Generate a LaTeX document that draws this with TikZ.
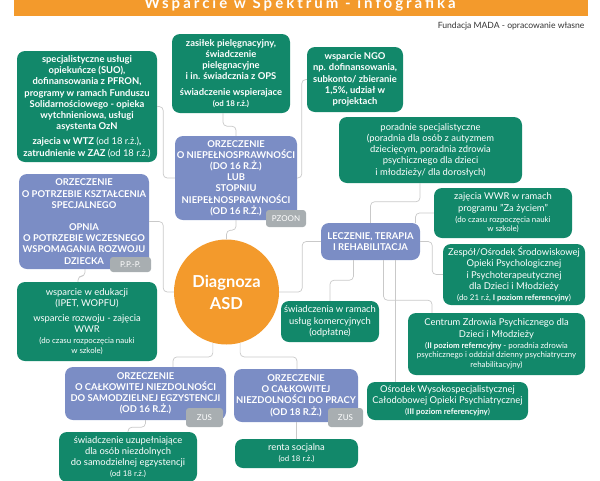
\documentclass[tikz,border=0pt]{standalone}
\usepackage{fontspec}
\setmainfont{Lato}
\usetikzlibrary{positioning,calc}

\definecolor{mindgreen}{HTML}{12886A}
\definecolor{mindblue}{HTML}{7B8DC5}
\definecolor{mindorange}{HTML}{F39A2C}
\definecolor{taggrey}{HTML}{A8AEB1}
\definecolor{linkgrey}{HTML}{C9C9C9}
\newcommand\smalltxt{\fontsize{7.9}{9.4}\selectfont}

\begin{document}
\begin{tikzpicture}[x=1pt, y=-1pt,
        font=\fontsize{9.4}{11.2}\selectfont,
        leaf/.style={fill=mindgreen, text=white, rounded corners=8pt, align=center,
                     inner sep=1pt},
        boldleaf/.style={leaf, font=\fontsize{9.4}{11.2}\selectfont\bfseries},
        branch/.style={fill=mindblue, text=white, rounded corners=8pt, align=center,
                       inner sep=1pt, font=\fontsize{9.4}{11.2}\selectfont\bfseries},
        tag/.style={fill=taggrey, text=white, rounded corners=3pt, inner sep=1pt,
                    font=\fontsize{8}{9}\selectfont},
        link/.style={draw=linkgrey, line width=0.7pt, rounded corners=4pt}
    ]
        \useasboundingbox (0,0) rectangle (600,480);

        \fill[mindorange] (14,0) rectangle (588,16);
        \node[anchor=base, text=white, font=\fontsize{15}{17}\selectfont\bfseries\addfontfeature{LetterSpace=20}] (title) at (300,8.5) {Wsparcie w Spektrum - infografika};
        \node[anchor=base east, text=black!80, font=\fontsize{8.6}{9}\selectfont] (source) at (588,28) {Fundacja MADA - opracowanie własne};

        \node[circle, fill=mindorange, text=white, minimum size=105pt, inner sep=0pt, align=center,
              font=\fontsize{16.5}{22}\selectfont\bfseries] (diagnoza) at (226.5,292) {Diagnoza\\ASD};

        \node[boldleaf, minimum width=140pt, minimum height=111pt] (suo) at (87,106.5) {specjalistyczne usługi\\opiekuńcze (SUO),\\dofinansowania z PFRON,\\programy w ramach Funduszu\\Solidarnościowego - opieka\\wytchnieniowa, usługi\\asystenta OzN\\[4pt]zajecia w WTZ {\mdseries (od 18 r.ż.)},\\zatrudnienie w ZAZ {\mdseries (od 18 r.ż.)}};
        \node[boldleaf, minimum width=118pt, minimum height=79pt] (zasilek) at (231,73.5) {zasiłek pielęgnacyjny,\\świadczenie\\pielęgnacyjne\\i in. świadcznia z OPS\\[4pt]świadczenie wspierajace\\{\smalltxt (od 18 r.ż.)}};
        \node[boldleaf, minimum width=96pt, minimum height=65pt] (ngo) at (355,79.5) {wsparcie NGO\\np. dofinansowania,\\subkonto/ zbieranie\\1,5\%, udział w\\projektach};
        \node[leaf, minimum width=183pt, minimum height=66pt] (poradnie) at (430.5,150) {poradnie specjalistyczne\\(poradnia dla osób z autyzmem\\dziecięcym, poradnia zdrowia\\psychicznego dla dzieci\\i młodzieży/ dla dorosłych)};
        \node[leaf, minimum width=138pt, minimum height=50pt] (wwr) at (503,213) {zajęcia WWR w ramach\\programu \symbol{34}Za życiem\symbol{34}\\{\smalltxt (do czasu rozpoczęcia nauki}\\[-1.5pt]{\smalltxt w szkole)}};
        \node[leaf, minimum width=142pt, minimum height=61pt] (zespol) at (514,274.5) {Zespół/Ośrodek Środowiskowej\\Opieki Psychologicznej\\i Psychoterapeutycznej\\dla Dzieci i Młodzieży\\{\smalltxt (do 21 r.ż, \textbf{I poziom referencyjny})}};
        \node[leaf, minimum width=98pt, minimum height=41pt] (komercyjne) at (330,321.5) {świadczenia w ramach\\usług komercyjnych\\(odpłatne)};
        \node[leaf, minimum width=177pt, minimum height=62pt] (centrum) at (496.5,344) {Centrum Zdrowia Psychicznego dla\\Dzieci i Młodzieży\\{\smalltxt (\textbf{II poziom referncyjny} - poradnia zdrowia}\\[-1.5pt]{\smalltxt psychicznego i oddział dzienny psychiatryczny}\\[-1.5pt]{\smalltxt rehabilitacyjny)}};
        \node[leaf, minimum width=161pt, minimum height=38pt] (osrodek) at (447.5,401) {Ośrodek Wysokospecjalistycznej\\Całodobowej Opieki Psychiatrycznej\\{\smalltxt (\textbf{III poziom referencyjny})}};
        \node[leaf, minimum width=140pt, minimum height=79pt] (edukacja) at (87,321.5) {wsparcie w edukacji\\(IPET, WOPFU)\\[3pt]wsparcie rozwoju - zajęcia\\WWR\\{\smalltxt (do czasu rozpoczęcia nauki}\\[-1.5pt]{\smalltxt w szkole)}};
        \node[leaf, minimum width=138pt, minimum height=50pt] (uzupelniajace) at (128,457) {świadczenie uzupełniające\\dla osób niezdolnych\\do samodzielnej egzystencji\\{\smalltxt (od 18 r.ż.)}};
        \node[leaf, minimum width=123pt, minimum height=29pt] (renta) at (296.5,453.5) {renta socjalna\\{\smalltxt (od 18 r.ż.)}};

        \node[branch, minimum width=122pt, minimum height=84pt] (niep) at (236,178) {ORZECZENIE\\O NIEPEŁNOSPRAWNOŚCI\\(DO 16 R.Ż.)\\LUB\\STOPNIU\\NIEPEŁNOSPRAWNOŚCI\\(OD 16 R.Ż.)};
        \node[branch, minimum width=130pt, minimum height=95pt] (ksztalcenie) at (84,221.5) {ORZECZENIE\\O POTRZEBIE KSZTAŁCENIA\\SPECJALNEGO\\[11pt]OPNIA\\O POTRZEBIE WCZESNEGO\\WSPOMAGANIA ROZWOJU\\DZIECKA};
        \node[branch, minimum width=99pt, minimum height=37pt] (leczenie) at (370.5,241.5) {LECZENIE, TERAPIA\\I REHABILITACJA};
        \node[branch, minimum width=161pt, minimum height=53pt] (egzystencja) at (145.5,393.5) {ORZECZENIE\\O CAŁKOWITEJ NIEZDOLNOŚCI\\DO SAMODZIELNEJ EGZYSTENCJI\\(OD 16 R.Ż.)};
        \node[branch, minimum width=124pt, minimum height=53pt] (praca) at (296,395.5) {ORZECZENIE\\O CAŁKOWITEJ\\NIEZDOLNOŚCI DO PRACY\\(OD 18 R.Ż.)};

        \node[tag, minimum width=40pt, minimum height=17pt] (pzoon) at (286,218.5) {PZOON};
        \node[tag, minimum width=41pt, minimum height=15pt] (ppp) at (130.5,264.5) {P.P.-P.};
        \node[tag, minimum width=37pt, minimum height=19pt] (zusone) at (204.5,417.5) {ZUS};
        \node[tag, minimum width=35pt, minimum height=19pt] (zustwo) at (345.5,417.5) {ZUS};

        \draw[link] (suo.east) -- ++(6,0) |- (niep.west);
        \draw[link] ([xshift=-8pt]zasilek.south) -- ++(0,13) -| (niep.north);
        \draw[link] (ngo.west) -- ++(-5,0) |- (niep.east);
        \draw[link] (niep.south) -- ++(0,10) -| (diagnoza.north);
        \draw[link] (ksztalcenie.east) -- ++(14,0) |- (diagnoza.west);
        \draw[link] ([xshift=1pt]ksztalcenie.south) -- ++(0,7) -| ([xshift=-9pt]edukacja.north);
        \draw[link] (diagnoza.east) -- ++(23,0) |- (leczenie.west);
        \draw[link] (leczenie.north) -- ++(0,-21) -| ([xshift=-10.5pt]poradnie.south);
        \draw[link] ([xshift=45pt]leczenie.north) |- (wwr.west);
        \draw[link] (leczenie.east) -- ++(12,0) |- (zespol.west);
        \draw[link] ([xshift=-17pt]leczenie.south) -- ++(0,20) -| (komercyjne.north);
        \draw[link] ([xshift=13pt]leczenie.south) -- ++(0,40) -| ([xshift=-64.5pt]centrum.north);
        \draw[link] ([xshift=25pt]leczenie.south) -- ([xshift=25pt]leczenie.south |- osrodek.north);
        \draw[link] (diagnoza.255) -- ++(0,14) -| ([xshift=27.5pt]egzystencja.north);
        \draw[link] (diagnoza.285) -- ++(0,14) -| ([xshift=1pt]praca.north);
        \draw[link] (egzystencja.south) -- ++(0,7) -| (uzupelniajace.north);
        \draw[link] (praca.south) -- (praca.south |- renta.north);
    \end{tikzpicture}
\end{document}
